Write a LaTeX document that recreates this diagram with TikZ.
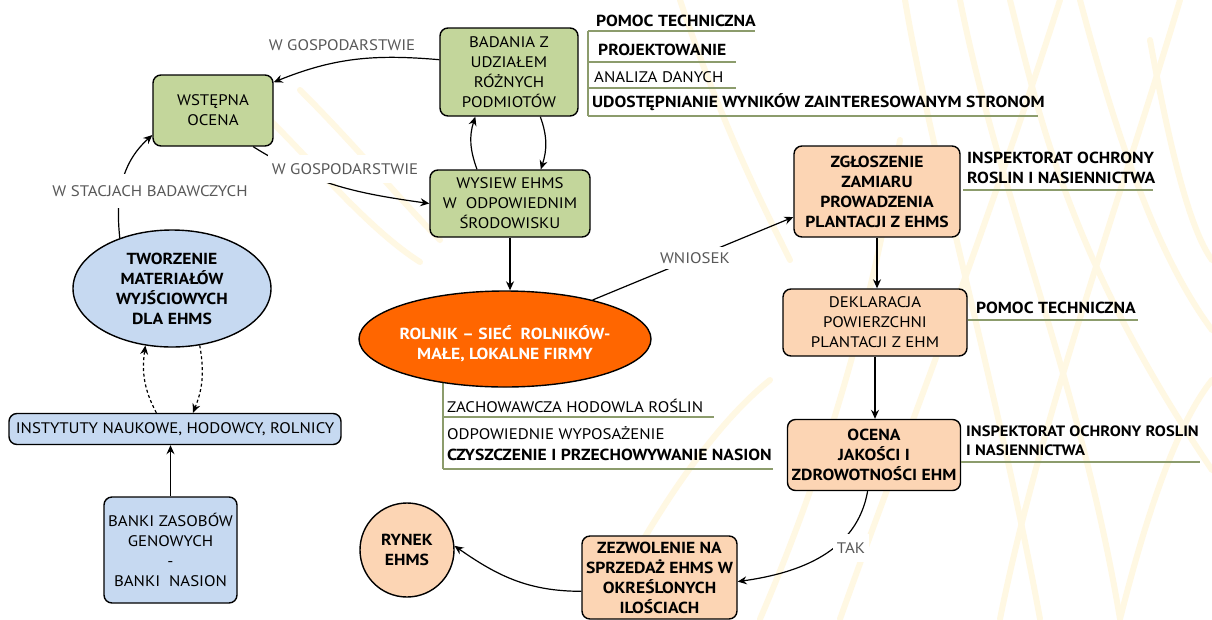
\documentclass[tikz,border=0pt]{standalone}
\usepackage{fontspec}
\setmainfont{PT Sans}[FakeStretch=1.1]
\usetikzlibrary{arrows.meta,shapes.geometric}
\definecolor{gfill}{HTML}{C3D69B}
\definecolor{bfill}{HTML}{C6D9F1}
\definecolor{pfill}{HTML}{FCD5B4}
\definecolor{ofill}{HTML}{FF6600}
\definecolor{olive}{HTML}{8C9C6C}
\definecolor{lgray}{HTML}{595959}
\definecolor{wheat}{HTML}{FFF8E3}
\begin{document}
\begin{tikzpicture}[x=1pt,y=-1pt,
  font=\fontsize{15.3}{20}\selectfont,
  box/.style={draw=black,line width=1.4pt,rounded corners=8pt,align=center,inner sep=0pt},
  gbox/.style={box,fill=gfill},
  bbox/.style={box,fill=bfill},
  pbox/.style={box,fill=pfill},
  bold/.style={font=\fontsize{16}{20}\selectfont\bfseries},
  arr/.style={-{Stealth[length=9pt,width=8pt,inset=3pt]},line width=1.2pt},
  darr/.style={arr,dash pattern=on 3pt off 2.5pt},
  lbl/.style={text=lgray,fill=white,inner xsep=4pt,inner ysep=8pt},
  item/.style={anchor=west,inner sep=0pt},
  brk/.style={draw=olive,line width=1.3pt},
  straw/.style={draw=wheat,line width=6pt,line cap=round}
]
\useasboundingbox (0,0) rectangle (1212,619);
\fill[white] (0,0) rectangle (1212,619);

% pale wheat strokes in the background
\draw[straw] (905,0) .. controls (930,150) and (1000,400) .. (1040,619);
\draw[straw] (960,0) .. controls (1000,200) and (1080,380) .. (1120,619);
\draw[straw] (1010,0) .. controls (1040,120) and (1070,260) .. (1212,470);
\draw[straw] (1080,0) .. controls (1120,150) and (1160,260) .. (1212,330);
\draw[straw] (1150,40) .. controls (1170,150) and (1190,230) .. (1212,260);
\draw[straw] (840,619) .. controls (900,450) and (980,250) .. (1060,0);
\draw[straw] (1000,619) .. controls (1040,420) and (1120,200) .. (1180,0);
\draw[straw] (760,619) .. controls (820,480) and (870,320) .. (900,140);
\draw[straw] (680,0) .. controls (720,120) and (760,200) .. (790,260);
\draw[straw] (600,619) .. controls (660,500) and (720,420) .. (770,380);
\draw[straw] (270,120) .. controls (320,170) and (370,230) .. (420,262);
\draw[straw] (300,90) .. controls (360,150) and (400,200) .. (440,240);
\draw[straw] (1120,619) .. controls (1150,500) and (1180,420) .. (1212,380);

% brackets under the farmer ellipse (drawn first, ellipse covers the top)
\coordinate (b2) at (443,378);
\draw[brk] (b2) -- (443,469);
\draw[brk] (443,417) -- (714,417);
\draw[brk] (443,469) -- (773,469);

% nodes
\node[gbox,minimum width=120,minimum height=71] (wst) at (213,110.5) {WSTĘPNA\\OCENA};
\node[gbox,minimum width=138,minimum height=88] (bad) at (509,72) {BADANIA Z\\UDZIAŁEM\\RÓŻNYCH\\PODMIOTÓW};
\node[gbox,minimum width=160,minimum height=67] (wys) at (510,203.5) {WYSIEW EHMS\\W\ \ ODPOWIEDNIM\\ŚRODOWISKU};
\node[ellipse,draw=black,line width=1.4pt,fill=bfill,minimum width=198,minimum height=117,inner sep=0pt] (two) at (172,288.5) {};
\node[align=center,bold] (twot) at (two.center) {TWORZENIE\\MATERIAŁÓW\\WYJŚCIOWYCH\\DLA EHMS};
\node[bbox,minimum width=332,minimum height=31] (ins) at (175,429) {INSTYTUTY NAUKOWE, HODOWCY, ROLNICY};
\node[bbox,minimum width=133,minimum height=106] (ban) at (170.5,550) {BANKI ZASOBÓW\\GENOWYCH\\-\\BANKI\ \ NASION};
\node[ellipse,draw=black,line width=1.4pt,fill=ofill,minimum width=292,minimum height=96,inner sep=0pt] (rol) at (505,339) {};
\node[align=center,text=white,bold] (rolt) at (505,344) {ROLNIK – SIEĆ\ \ ROLNIKÓW-\\MAŁE, LOKALNE FIRMY};
\node[pbox,bold,minimum width=166,minimum height=91] (zgl) at (877,191.5) {ZGŁOSZENIE\\ZAMIARU\\PROWADZENIA\\PLANTACJI Z EHMS};
\node[pbox,minimum width=184,minimum height=67] (dek) at (875,322.5) {DEKLARACJA\\POWIERZCHNI\\PLANTACJI Z EHM};
\node[pbox,bold,minimum width=173,minimum height=71] (oce) at (874,455) {OCENA\\JAKOŚCI I\\ZDROWOTNOŚCI EHM};
\node[pbox,bold,minimum width=155,minimum height=83] (zez) at (659.5,577.5) {ZEZWOLENIE NA\\SPRZEDAŻ EHMS W\\OKREŚLONYCH\\ILOŚCIACH};
\node[circle,draw=black,line width=1.4pt,fill=pfill,minimum size=94,align=center,inner sep=0pt,bold] (ryn) at (407,550) {RYNEK\\EHMS};

% brackets and item lists
\coordinate (b1) at (588,31);
\draw[brk] (b1) -- (588,116);
\draw[brk] (b1) -- (755,31);
\draw[brk] (588,62) -- (736,62);
\draw[brk] (588,88) -- (736,88);
\draw[brk] (588,116) -- (1038,116);
\node[item,bold] (i1) at (596,21) {POMOC TECHNICZNA};
\node[item,bold] (i2) at (598,50) {PROJEKTOWANIE};
\node[item] (i3) at (594,77) {ANALIZA DANYCH};
\node[item,bold] (i4) at (592,102) {UDOSTĘPNIANIE WYNIKÓW ZAINTERESOWANYM STRONOM};

\draw[brk] (963,190) -- (1153,190);
\node[item,bold,align=left] (i5) at (967,168) {INSPEKTORAT OCHRONY\\ROSLIN I NASIENNICTWA};
\draw[brk] (968,320) -- (1138,320);
\node[item,bold] (i6) at (976,308) {POMOC TECHNICZNA};
\draw[brk] (961,462) -- (1200,462);
\node[item,align=left,font=\fontsize{15}{19}\selectfont\bfseries] (i7) at (966,441) {INSPEKTORAT OCHRONY ROSLIN\\I NASIENNICTWA};

\node[item] (i8) at (447,406) {ZACHOWAWCZA HODOWLA ROŚLIN};
\node[item] (i9) at (447,433) {ODPOWIEDNIE WYPOSAŻENIE};
\node[item,bold] (i10) at (447,455) {CZYSZCZENIE I PRZECHOWYWANIE NASION};

% connectors
\draw[arr] (bad.170) to[out=175,in=22] (wst.25);
\draw[arr] (wst.-42) to[out=-32,in=172] (wys.west);
\draw[arr] (two.136) to[out=96,in=222] (wst.202);
\draw[arr] (wys.134) to[out=110,in=252] (bad.233);
\draw[arr] (bad.-55) to[out=-70,in=72] (wys.48);
\draw[arr] (wys.south) -- (wys.south |- rol.north);
\draw[arr] (rol.24) -- (zgl.197);
\draw[arr] (zgl.south) -- (zgl.south |- dek.north);
\draw[arr] (dek.south) -- (dek.south |- oce.north);
\draw[arr] (oce.260) to[out=-100,in=8] (zez.-3);
\draw[arr] (zez.190) to[out=180,in=-35] (ryn.5);
\draw[darr] (ins.139) to[out=118,in=262] (two.245);
\draw[darr] (two.-64) to[out=-80,in=68] (ins.42);
\draw[arr] (ban.north) -- (ban.north |- ins.south);

% connector labels
\node[lbl,inner ysep=2pt] (l1) at (342,45) {W GOSPODARSTWIE};
\node[lbl] (l2) at (345,169) {W GOSPODARSTWIE};
\node[lbl,inner ysep=11pt] (l3) at (150,191) {W STACJACH BADAWCZYCH};
\node[lbl,inner ysep=5pt] (l4) at (695,258) {WNIOSEK};
\node[lbl,inner ysep=9pt] (l5) at (851,548) {TAK};
\end{tikzpicture}
\end{document}
